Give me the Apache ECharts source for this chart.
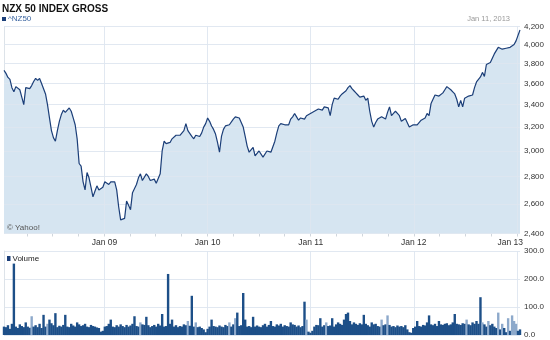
<!DOCTYPE html>
<html><head><meta charset="utf-8">
<script src="https://cdn.jsdelivr.net/npm/echarts@6/dist/echarts.min.js"></script>
<style>html,body{margin:0;padding:0;background:#fff}#c{width:550px;height:340px}</style>
</head><body><div id="c"></div>
<script>
const startDate = Date.UTC(2008, 0, 11);
const endDate = Date.UTC(2013, 0, 11);
const yearTicks = [Date.UTC(2009,0,1), Date.UTC(2010,0,1), Date.UTC(2011,0,1), Date.UTC(2012,0,1), Date.UTC(2013,0,1)];
const quarterTicks = [];
for (let y = 2008; y <= 2013; y++) for (let m = 0; m < 12; m += 3) {
  const t = Date.UTC(y, m, 1); if (t > startDate && t <= endDate) quarterTicks.push(t);
}
const priceTicks = [2400, 2600, 2800, 3000, 3200, 3400, 3600, 3800, 4000, 4200];
const volumeTicks = [0, 100, 200, 300];

// weekly closes, ^NZ50
const priceValues = [
3730,3700,3660,3640,3560,3520,3570,3570,3540,3470,
3400,3560,3570,3550,3580,3620,3650,3630,3650,3600,
3610,3500,3400,3280,3170,3110,3080,3170,3250,3310,
3350,3330,3340,3370,3340,3280,3220,3100,2900,2880,
2760,2700,2830,2790,2720,2650,2690,2730,2700,2690,
2720,2760,2750,2740,2760,2770,2760,2700,2580,2490,
2480,2500,2620,2590,2560,2680,2680,2740,2790,2820,
2770,2780,2820,2800,2770,2770,2780,2750,2760,2820,
3000,3080,3060,3065,3070,3100,3100,3130,3140,3130,
3140,3170,3230,3170,3160,3120,3100,3130,3130,3120,
3150,3200,3230,3280,3250,3210,3180,3140,3070,2990,
3120,3180,3210,3220,3220,3230,3270,3290,3290,3280,
3290,3200,3120,3040,2990,3000,3030,2960,2970,3000,
2990,2950,2960,3000,3010,2990,3000,3080,3150,3210,
3230,3230,3220,3230,3220,3270,3290,3320,3290,3260,
3280,3280,3270,3300,3310,3320,3330,3340,3350,3360,
3370,3350,3380,3390,3370,3300,3400,3460,3470,3450,
3480,3500,3510,3530,3560,3580,3550,3530,3510,3490,
3470,3460,3480,3440,3460,3340,3250,3200,3240,3270,
3280,3290,3300,3270,3330,3380,3300,3320,3340,3320,
3300,3250,3265,3275,3270,3200,3215,3220,3220,3220,
3230,3260,3275,3280,3320,3300,3410,3450,3490,3485,
3480,3495,3510,3540,3570,3570,3540,3520,3500,3450,
3380,3440,3380,3460,3475,3480,3470,3490,3560,3615,
3640,3665,3710,3670,3790,3805,3810,3820,3900,3920,
3970,3955,3950,3955,3960,3965,3970,3980,4000,4040,4100,4160
];
// volume (millions)
const volumeValues = [
30,28,35,22,40,255,30,25,38,32,
28,45,30,26,67,30,35,28,40,25,
72,30,40,55,42,35,78,28,33,30,
36,72,30,28,40,34,30,45,38,32,
35,40,30,28,36,32,30,27,25,12,
15,30,32,40,55,30,28,35,30,38,
32,28,36,30,34,40,67,32,30,45,
38,36,65,35,28,32,36,30,40,34,
75,30,32,218,40,55,30,35,28,32,
30,38,35,50,33,140,30,45,28,30,
25,20,10,22,30,55,32,30,28,34,
30,28,36,32,45,30,38,60,80,32,
35,150,55,30,32,28,65,30,34,30,
28,35,40,30,36,50,32,30,38,34,
40,30,35,32,30,45,38,36,30,34,
28,32,119,55,12,8,15,30,36,35,
60,30,35,45,32,34,60,30,38,45,
40,36,55,75,80,50,38,45,40,36,
42,38,72,40,35,30,45,38,40,32,
30,55,35,38,70,36,30,32,28,34,
30,32,28,35,20,10,8,25,30,50,
32,30,36,34,45,70,38,35,40,32,
50,38,36,40,42,35,38,45,75,40,
38,36,42,40,55,38,35,45,40,50,
40,135,45,38,30,50,35,40,30,25,
80,20,40,25,10,60,15,70,50,40,15,20
];
const volumeDownWeeks = [14,22,69,93,97,114,117,153,163,191,194,234,242,245,250,252,255,257,258,259];

const WEEK = 7 * 86400000;
const dates = priceValues.map((_, i) => startDate + i * WEEK);
const priceData = priceValues.map((v, i) => [dates[i], v]);
const volumeData = volumeValues.map((v, i) => [dates[i], v]);
const downSet = new Set(volumeDownWeeks);

const FONT = '"Liberation Sans", Arial, Helvetica, sans-serif';
const LINE = '#1b3e78';
const GRIDC = 'rgba(222,230,239,0.9)';

const chart = echarts.init(document.getElementById('c'), null, {renderer: 'canvas'});
chart.setOption({
  animation: false,
  backgroundColor: '#fff',
  textStyle: {fontFamily: FONT},
  title: [
    {text: 'NZX 50 INDEX GROSS', left: 2, top: 4, padding: 0,
     textStyle: {fontSize: 10, fontWeight: 'bold', color: '#111', fontFamily: FONT}},
    {text: 'Jan 11, 2013', right: 40, top: 15, padding: 0,
     textStyle: {fontSize: 7.5, fontWeight: 'normal', color: '#999', fontFamily: FONT}}
  ],
  graphic: [
    {type: 'rect', left: 2, top: 17, shape: {width: 4, height: 4}, style: {fill: LINE}},
    {type: 'text', left: 8, top: 15, style: {text: '^NZ50', font: '8px ' + FONT, fill: '#3a64a0'}},
    {type: 'text', left: 7, top: 224, z: 10, style: {text: '\u00a9 Yahoo!', font: '8px ' + FONT, fill: '#555'}},
    {type: 'rect', left: 7, top: 256, shape: {width: 3.5, height: 5}, style: {fill: LINE}},
    {type: 'text', left: 12.5, top: 254.5, style: {text: 'Volume', font: '8px ' + FONT, fill: '#222'}}
  ],
  grid: [
    {left: 4, right: 30, top: 26.5, height: 207},
    {left: 4, right: 30, top: 251, height: 84}
  ],
  xAxis: [
    {type: 'value', gridIndex: 0, min: startDate, max: endDate, z: 3,
     axisLine: {show: false},
     axisTick: {show: false, customValues: yearTicks},
     splitLine: {show: true, lineStyle: {color: GRIDC, width: 1}},
     axisLabel: {customValues: yearTicks, margin: 5, fontSize: 8.5, color: '#333', fontFamily: FONT,
       formatter: function (v) {
         const y = new Date(v).getUTCFullYear();
         const t = 'Jan ' + String(y).slice(2);
         return y === 2013 ? '{r|' + t + '}' : t;
       },
       rich: {r: {padding: [0, 14, 0, 0], fontSize: 8.5, color: '#333', fontFamily: FONT}}}},
    {type: 'value', gridIndex: 0, min: startDate, max: endDate, position: 'bottom',
     axisLine: {show: false}, axisLabel: {show: false}, splitLine: {show: false},
     axisTick: {show: true, length: 3, customValues: quarterTicks, lineStyle: {color: '#d0d6dc'}}},
    {type: 'value', gridIndex: 1, min: startDate, max: endDate,
     axisLine: {show: false}, axisLabel: {show: false},
     axisTick: {show: false, customValues: yearTicks},
     splitLine: {show: true, lineStyle: {color: GRIDC}}}
  ],
  yAxis: [
    {type: 'log', gridIndex: 0, min: 2400, max: 4200, position: 'right', z: 3,
     axisLine: {show: false},
     axisTick: {show: false, customValues: priceTicks},
     splitLine: {show: true, lineStyle: {color: GRIDC}},
     axisLabel: {customValues: priceTicks, margin: 4, fontSize: 8, color: '#333', fontFamily: FONT,
       formatter: v => String(Math.round(v)).replace(/\B(?=(\d{3})+(?!\d))/g, ',')}},
    {type: 'value', gridIndex: 0, position: 'left', show: true,
     axisLine: {show: true, lineStyle: {color: '#dde3e9'}}, axisTick: {show: false},
     axisLabel: {show: false}, splitLine: {show: false}},
    {type: 'value', gridIndex: 1, min: 0, max: 300, interval: 100, position: 'right',
     axisLine: {show: false}, axisTick: {show: false},
     splitLine: {show: true, lineStyle: {color: GRIDC}},
     axisLabel: {margin: 4, fontSize: 8, color: '#333', fontFamily: FONT, formatter: v => v.toFixed(1)}},
    {type: 'value', gridIndex: 1, position: 'left',
     axisLine: {show: true, lineStyle: {color: '#dde3e9'}}, axisTick: {show: false},
     axisLabel: {show: false}, splitLine: {show: false}}
  ],
  series: [
    {name: 'area', type: 'line', xAxisIndex: 0, yAxisIndex: 0, data: priceData, showSymbol: false, silent: true,
     z: 1, lineStyle: {width: 0}, areaStyle: {color: '#d6e5f1', opacity: 1, origin: 'start'}},
    {name: '^NZ50', type: 'line', xAxisIndex: 0, yAxisIndex: 0, data: priceData, showSymbol: false,
     z: 4, color: LINE, lineStyle: {color: LINE, width: 1.2}},
    {name: 'Volume', type: 'bar', xAxisIndex: 2, yAxisIndex: 2, data: volumeData, barWidth: 2.4,
     itemStyle: {color: p => downSet.has(p.dataIndex) ? '#8da9cb' : '#1d4f88'}}
  ]
});
</script></body></html>
